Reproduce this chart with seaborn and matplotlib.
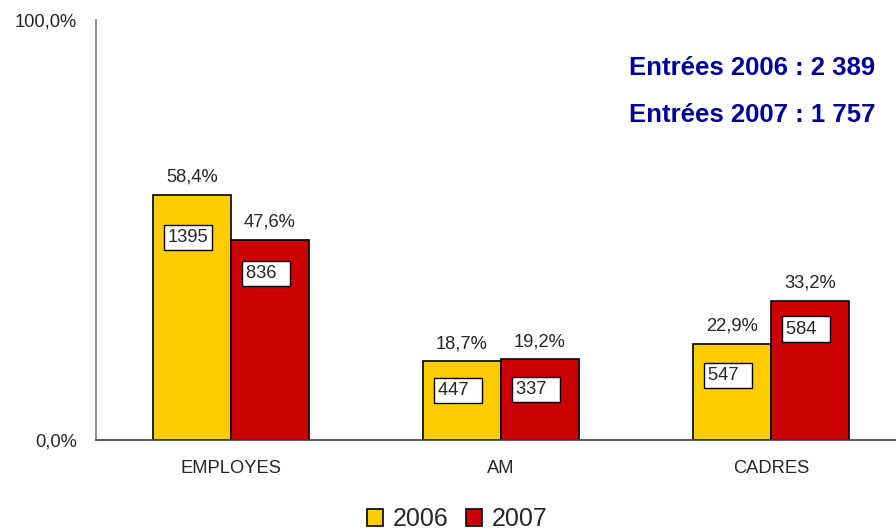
#!/usr/bin/env python3

import pandas as pd
import seaborn as sns
from matplotlib import pyplot as plt

categories = ["EMPLOYES", "AM", "CADRES"]
years = ["2006", "2007"]
pct_2006 = [58.4, 18.7, 22.9]
pct_2007 = [47.6, 19.2, 33.2]
count_2006 = [1395, 447, 547]
count_2007 = [836, 337, 584]
entries = {"2006": "2 389", "2007": "1 757"}
y_ticks = [0, 100]
y_tick_labels = ["0,0%", "100,0%"]

# drop of the count boxes below each bar top, in points (layout only)
box_drop = {"2006": [31, 21, 22.5], "2007": [24, 22, 20.5]}

FS = 13.2


def fr(v):
    return f"{v:.1f}".replace(".", ",") + "%"


def main():
    data = pd.DataFrame({
        "cat": categories * 2,
        "year": [years[0]] * 3 + [years[1]] * 3,
        "pct": pct_2006 + pct_2007,
        "n": count_2006 + count_2007,
    })

    sns.set_theme(style="white")
    plt.rcParams["font.family"] = ["Liberation Sans", "DejaVu Sans"]

    fig = plt.figure(figsize=(8.96, 5.32), dpi=100)
    ax = fig.add_axes([96 / 896, 92 / 532, 810 / 896, 420 / 532])

    sns.barplot(data, x="cat", y="pct", hue="year", order=categories, hue_order=years,
                palette=["#FFCC00", "#CC0000"], width=0.578, edgecolor="black",
                linewidth=1.2, saturation=1, ax=ax)

    for year, cont in zip(years, ax.containers):
        sub = data[data["year"] == year]
        for bar, pct, n, drop in zip(cont, sub["pct"], sub["n"], box_drop[year]):
            x0 = bar.get_x()
            xc = x0 + bar.get_width() / 2
            top = bar.get_height()
            ax.annotate(fr(pct), (xc, top), xytext=(0, 9.5), textcoords="offset points",
                        ha="center", va="baseline", fontsize=FS)
            txt = str(n).ljust(4).replace(" ", "  ")
            ax.annotate(txt, (x0, top), xytext=(10.5, -drop), textcoords="offset points",
                        ha="left", va="center", fontsize=FS,
                        bbox=dict(boxstyle="square,pad=0.22", fc="white", ec="black", lw=1))

    ax.set_xlim(-0.5, 2.5)
    ax.set_ylim(0, 100)
    ax.set_yticks(y_ticks, y_tick_labels)
    ax.set_xlabel("")
    ax.set_ylabel("")
    ax.tick_params(axis="y", length=0, pad=13.5, labelsize=FS)
    ax.tick_params(axis="x", length=0, pad=14.5, labelsize=FS)
    for s in ["top", "right"]:
        ax.spines[s].set_visible(False)
    ax.spines["left"].set_color("#808080")
    ax.spines["bottom"].set_color("#404040")
    ax.spines["left"].set_linewidth(1.2)
    ax.spines["bottom"].set_linewidth(1.2)

    sns.move_legend(ax, "center", bbox_to_anchor=(0.4457, -0.188), ncol=2, frameon=False,
                    title=None, fontsize=18, handlelength=0.65, handleheight=0.65,
                    handletextpad=0.36, columnspacing=0.72)

    for i, (year, total) in enumerate(entries.items()):
        fig.text(629 / 896, 1 - (68 + 47 * i) / 532, f"Entrées {year} : {total}",
                 ha="left", va="center", fontsize=18.5, fontweight="bold", color="#000099")

    plt.savefig("out.png", dpi=100)
    plt.close()


if __name__ == '__main__':
    main()
